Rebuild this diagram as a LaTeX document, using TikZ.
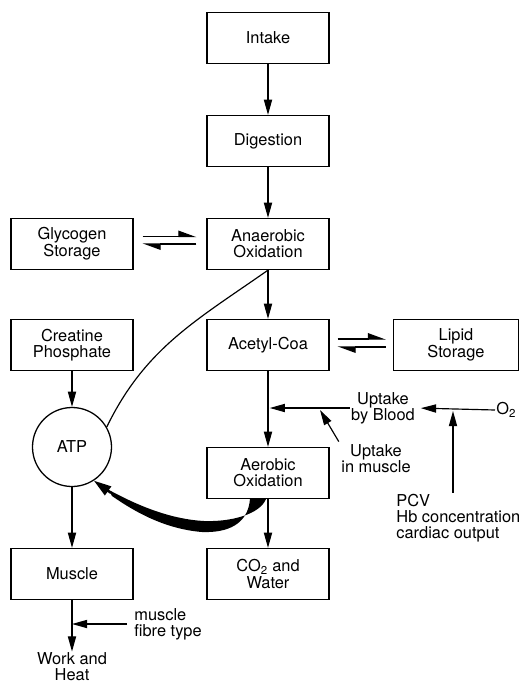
\documentclass[tikz,border=0pt]{standalone}
\usepackage{fontspec}
\setmainfont{TeX Gyre Heros}
\usetikzlibrary{calc,arrows.meta}
\tikzset{
	box/.style={draw,line width=1.1pt,minimum width=3.66cm,minimum height=1.53cm,align=center,inner sep=2pt},
	lbl/.style={align=center,inner sep=1pt},
	arr/.style={-{Triangle[length=13pt,width=7pt]},line width=1pt},
	harp/.style={-{Triangle[left,length=14pt,width=10pt]},line width=1pt}
}

\begin{document}
\begin{tikzpicture}[font=\fontsize{14}{13.5}\selectfont]
	\pgfmathsetmacro{\ul}{0.03};
	\useasboundingbox (0,0) rectangle (524*\ul,-684*\ul);
	% boxes
	\node[box] (intake) at (268*\ul,-38*\ul) {Intake};
	\node[box] (digest) at (268*\ul,-141*\ul) {Digestion};
	\node[box] (glyc) at (72*\ul,-244*\ul) {Glycogen\\Storage};
	\node[box] (anaer) at (268*\ul,-244*\ul) {Anaerobic\\Oxidation};
	\node[box] (creat) at (72*\ul,-345*\ul) {Creatine\\Phosphate};
	\node[box] (acetyl) at (268*\ul,-345*\ul) {Acetyl-Coa};
	\node[box,minimum width=3.75cm] (lipid) at (456*\ul,-345*\ul) {Lipid\\Storage};
	\node[draw,circle,line width=1.1pt,minimum size=2.37cm] (atp) at (72*\ul,-447*\ul) {ATP};
	\node[box] (aer) at (268*\ul,-473*\ul) {Aerobic\\Oxidation};
	\node[box] (muscle) at (72*\ul,-574*\ul) {Muscle};
	\node[box] (water) at (268*\ul,-574*\ul) {CO\textsubscript{2} and\\[1pt]Water};
	% free texts
	\node[lbl] (work) at (72*\ul,-667*\ul) {Work and\\Heat};
	\node[lbl,anchor=west,align=left] (fibre) at (133*\ul,-624*\ul) {muscle\\fibre type};
	\node[lbl] (blood) at (383*\ul,-408*\ul) {Uptake\\by Blood};
	\node[lbl,anchor=west] (otwo) at (495*\ul,-410*\ul) {O\textsubscript{2}};
	\node[lbl] (inmusc) at (376*\ul,-459*\ul) {Uptake\\in muscle};
	\node[lbl,anchor=west,align=left] (pcv) at (395*\ul,-518*\ul) {PCV\\Hb concentration\\cardiac output};
	\coordinate (join) at (acetyl.south |- blood.west);
	\coordinate (hit) at (453*\ul,-411*\ul);
	\coordinate (hit2) at (320*\ul,-410*\ul);
	\coordinate (fjoin) at (muscle.south |- fibre.west);
	% main chain
	\draw[arr] (intake) -- (digest);
	\draw[arr] (digest) -- (anaer);
	\draw[arr] (anaer) -- (acetyl);
	\draw[arr] (acetyl) -- (aer);
	\draw[arr] (aer) -- (water);
	\draw[arr] (creat) -- (atp);
	\draw[arr] (atp) -- (muscle);
	\draw[arr] (muscle) -- (work);
	% equilibria
	\draw[harp] ($(glyc.east)+(9*\ul,7.5*\ul)$) -- ($(anaer.west)+(-10*\ul,7.5*\ul)$);
	\draw[harp] ($(anaer.west)+(-10*\ul,0)$) -- ($(glyc.east)+(9*\ul,0)$);
	\draw[harp] ($(acetyl.east)+(8*\ul,6*\ul)$) -- ($(lipid.west)+(-7*\ul,6*\ul)$);
	\draw[harp] ($(lipid.west)+(-7*\ul,-2*\ul)$) -- ($(acetyl.east)+(8*\ul,-2*\ul)$);
	% oxygen
	\draw[arr,shorten >=1.5pt] (blood.west) -- (join);
	\draw[arr,shorten >=4pt] (otwo.west) -- (blood.east);
	\draw[arr] (pcv.north -| hit) -- (hit);
	\draw[arr,shorten <=2pt] (inmusc.north west) -- (hit2);
	\draw[arr,shorten <=5pt] (fibre.west) -- (fjoin);
	% ATP links
	\draw[line width=1pt] (anaer.south) to[out=-145,in=64] (atp.30);
	\fill (250*\ul,-499*\ul) .. controls (248*\ul,-524*\ul) and (228*\ul,-533*\ul) .. (202*\ul,-532*\ul)
		.. controls (165*\ul,-529*\ul) and (135*\ul,-512*\ul) .. (112*\ul,-496*\ul) -- (109*\ul,-490*\ul)
		.. controls (135*\ul,-504*\ul) and (168*\ul,-519*\ul) .. (204*\ul,-521*\ul)
		.. controls (232*\ul,-522*\ul) and (260*\ul,-514*\ul) .. (266*\ul,-499*\ul) -- cycle;
	\draw[-{Triangle[length=15pt,width=9pt]},line width=2pt] (111*\ul,-493*\ul) -- (atp.-57);
\end{tikzpicture}
\end{document}
